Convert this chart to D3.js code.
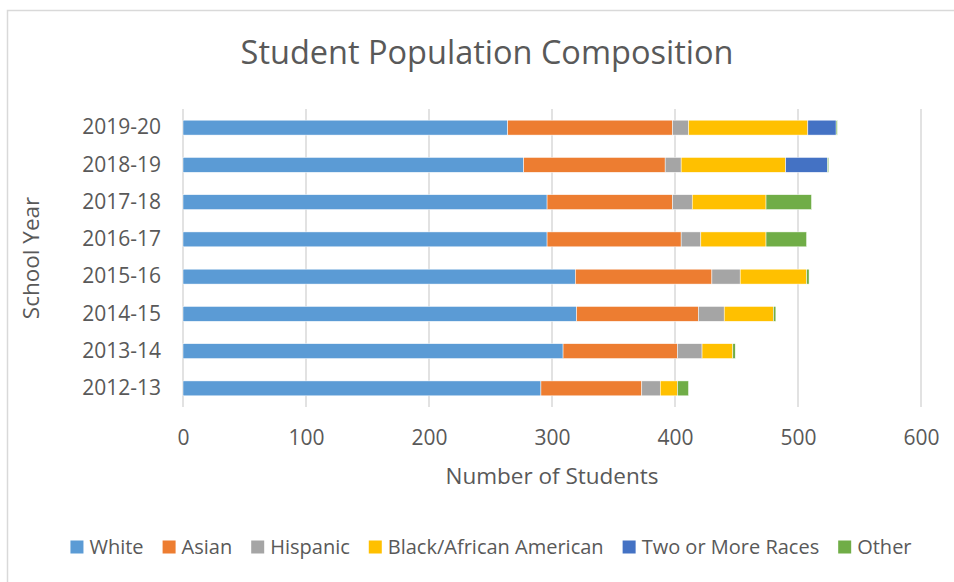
<!DOCTYPE html>
<html>
<head>
<meta charset="utf-8">
<script src="https://cdn.jsdelivr.net/npm/d3@7"></script>
<style>
  html, body { margin: 0; padding: 0; background: #fff; }
  svg text { font-family: "Open Sans", "Noto Sans", sans-serif; fill: #595959; }
</style>
</head>
<body>
<svg id="chart" width="954" height="582"></svg>
<script>
// School years, bottom to top in the drawing order of the bars
const years = ["2012-13", "2013-14", "2014-15", "2015-16", "2016-17", "2017-18", "2018-19", "2019-20"];
const groups = ["White", "Asian", "Hispanic", "Black/African American", "Two or More Races", "Other"];
const colors = ["#5b9bd5", "#ed7d31", "#a5a5a5", "#ffc000", "#4472c4", "#70ad47"];

// Students per group, one value per school year
const white    = [291, 309, 320, 319, 296, 296, 277, 264];
const asian    = [82, 93, 99, 111, 109, 102, 115, 134];
const hispanic = [15, 20, 21, 23, 16, 16, 13, 13];
const black    = [14, 25, 40, 54, 53, 60, 85, 97];
const twoMore  = [0, 0, 0, 0, 0, 0, 34, 23];
const other    = [9, 2, 2, 2, 33, 37, 1, 1];
const xTicks   = [0, 100, 200, 300, 400, 500, 600];

const seriesValues = [white, asian, hispanic, black, twoMore, other];
const rows = years.map((y, i) => {
  const r = { year: y };
  groups.forEach((g, k) => r[g] = seriesValues[k][i]);
  return r;
});

const svg = d3.select("#chart");
const plot = { left: 183, right: 921, top: 109, bottom: 407 };

// chart frame
svg.append("rect")
  .attr("x", 7.5).attr("y", 10.5).attr("width", 960).attr("height", 600)
  .attr("fill", "none").attr("stroke", "#d9d9d9").attr("stroke-width", 1.5);

const x = d3.scaleLinear().domain([0, 600]).range([plot.left, plot.right]);
const y = d3.scaleBand().domain(years.slice().reverse()).range([plot.top, plot.bottom]).paddingInner(0.6).paddingOuter(0.3);

// vertical gridlines
svg.append("g").selectAll("line").data(xTicks).join("line")
  .attr("x1", d => x(d)).attr("x2", d => x(d))
  .attr("y1", plot.top).attr("y2", plot.bottom)
  .attr("stroke", "#d9d9d9").attr("stroke-width", 1.5);

// stacked bars
const stack = d3.stack().keys(groups)(rows);
svg.append("g").selectAll("g").data(stack).join("g")
  .attr("fill", (d, i) => colors[i])
  .selectAll("rect").data(d => d).join("rect")
  .attr("x", d => x(d[0]))
  .attr("width", d => x(d[1]) - x(d[0]))
  .attr("y", d => y(d.data.year))
  .attr("height", y.bandwidth())
  .attr("stroke", "#fff").attr("stroke-width", 0.5);

// x axis labels
const xAxis = svg.append("g").attr("transform", `translate(0,${plot.bottom + 31})`)
  .call(d3.axisBottom(x).tickValues(xTicks).tickSize(0).tickPadding(0));
xAxis.select(".domain").remove();
xAxis.selectAll("text").attr("font-size", 21).attr("dy", "0.32em").style("fill", "#595959")
  .attr("font-family", "'Open Sans', sans-serif");

// y axis labels
const yAxis = svg.append("g").attr("transform", `translate(${plot.left - 22},0)`)
  .call(d3.axisLeft(y).tickSize(0).tickPadding(0));
yAxis.select(".domain").remove();
yAxis.selectAll("text").attr("font-size", 21).style("fill", "#595959")
  .attr("font-family", "'Open Sans', sans-serif");

// titles
svg.append("text").attr("x", 487).attr("y", 64).attr("text-anchor", "middle")
  .attr("font-size", 32.5).text("Student Population Composition");
svg.append("text").attr("x", 552).attr("y", 484).attr("text-anchor", "middle")
  .attr("font-size", 22.5).text("Number of Students");
svg.append("text").attr("transform", `translate(39,${(plot.top + plot.bottom) / 2}) rotate(-90)`)
  .attr("text-anchor", "middle").attr("font-size", 22.5).text("School Year");

// legend
const legend = svg.append("g");
const items = legend.selectAll("g").data(groups).join("g");
items.append("rect").attr("width", 13).attr("height", 13).attr("y", -6.5).attr("fill", (d, i) => colors[i]);
items.append("text").attr("x", 19).attr("dy", "0.35em").attr("font-size", 20).text(d => d);
let pos = 0;
const gap = 19;
items.each(function () {
  const w = this.getBBox().width;
  d3.select(this).attr("transform", `translate(${pos},0)`);
  pos += w + gap;
});
const total = pos - gap;
legend.attr("transform", `translate(${491 - total / 2},547)`);
</script>
</body>
</html>
